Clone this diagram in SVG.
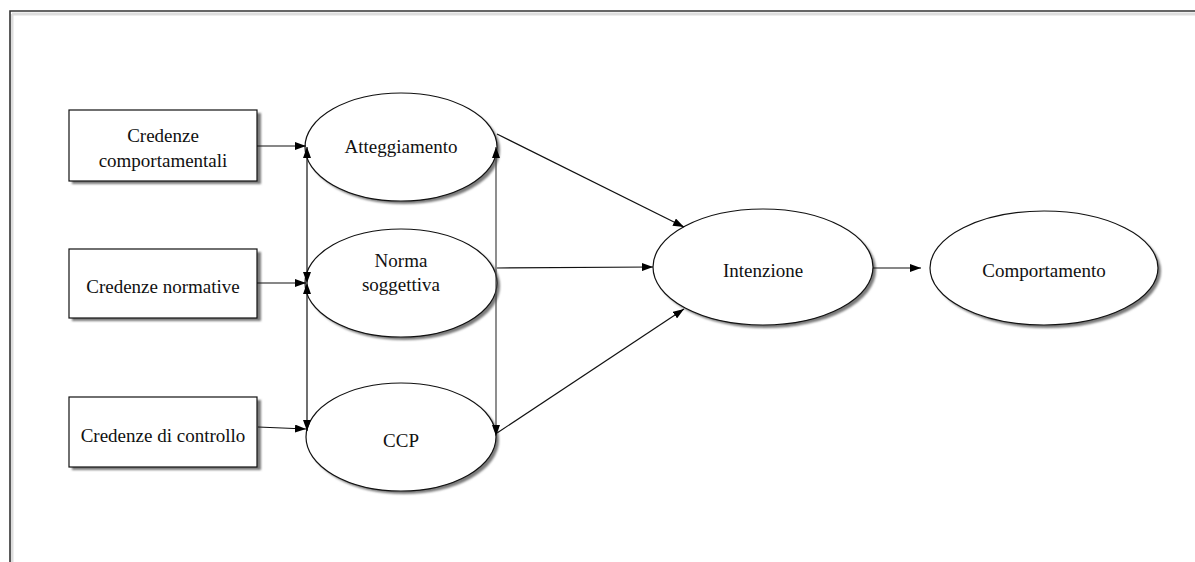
<svg xmlns="http://www.w3.org/2000/svg" width="1195" height="562" viewBox="0 0 1195 562">
  <defs>
    <style>
      .frame { fill: none; stroke: #333; stroke-width: 1.6; }
      .frame-shade { fill: none; stroke: #ddd; stroke-width: 3; }
      .shade { fill: #7a7a7a; filter: url(#soft); }
      .box { fill: #fff; stroke: #111; stroke-width: 1.2; }
      .oval { fill: #fff; stroke: #111; stroke-width: 1.2; }
      .label { font-family: "Liberation Serif", "Times New Roman", serif; font-size: 19px; fill: #111; text-anchor: middle; }
      .link { fill: none; stroke: #111; stroke-width: 1.2; }
      .link-grey { fill: none; stroke: #444; stroke-width: 1.2; }
    </style>
    <filter id="soft" x="-10%" y="-10%" width="120%" height="120%">
      <feGaussianBlur stdDeviation="0.8"/>
    </filter>
    <marker id="head" viewBox="0 0 11 8" refX="11" refY="4" markerWidth="11" markerHeight="8" markerUnits="userSpaceOnUse" orient="auto-start-reverse">
      <path d="M0,0 L11,4 L0,8 z" fill="#000"/>
    </marker>
  </defs>

  <!-- page frame -->
  <g id="frame">
    <path class="frame-shade" d="M12,14 H1195 M12,14 V562"/>
    <path class="frame" d="M10,562 V11 H1195"/>
  </g>

  <!-- belief boxes -->
  <g id="credenze-comportamentali">
    <rect class="shade" x="72" y="113" width="189" height="71"/>
    <rect class="box" x="69" y="110" width="188" height="71"/>
    <text class="label" x="163" y="142">Credenze</text>
    <text class="label" x="163" y="167">comportamentali</text>
  </g>
  <g id="credenze-normative">
    <rect class="shade" x="72" y="252" width="189" height="69"/>
    <rect class="box" x="69" y="249" width="188" height="69"/>
    <text class="label" x="163" y="293">Credenze normative</text>
  </g>
  <g id="credenze-controllo">
    <rect class="shade" x="72" y="400" width="189" height="70"/>
    <rect class="box" x="69" y="397" width="188" height="70"/>
    <text class="label" x="163" y="442">Credenze di controllo</text>
  </g>

  <!-- constructs -->
  <g id="atteggiamento">
    <ellipse class="shade" cx="404" cy="150" rx="96" ry="54"/>
    <ellipse class="oval" cx="401" cy="147" rx="96" ry="54"/>
    <text class="label" x="401" y="153">Atteggiamento</text>
  </g>
  <g id="norma-soggettiva">
    <ellipse class="shade" cx="404" cy="286" rx="96" ry="54"/>
    <ellipse class="oval" cx="401" cy="283" rx="96" ry="54"/>
    <text class="label" x="401" y="267">Norma</text>
    <text class="label" x="401" y="291">soggettiva</text>
  </g>
  <g id="ccp">
    <ellipse class="shade" cx="404" cy="440" rx="95" ry="54"/>
    <ellipse class="oval" cx="401" cy="437" rx="95" ry="54"/>
    <text class="label" x="401" y="447">CCP</text>
  </g>
  <g id="intenzione">
    <ellipse class="shade" cx="766" cy="270" rx="110" ry="58"/>
    <ellipse class="oval" cx="763" cy="267" rx="110" ry="58"/>
    <text class="label" x="763" y="277">Intenzione</text>
  </g>
  <g id="comportamento">
    <ellipse class="shade" cx="1047" cy="271" rx="114" ry="57"/>
    <ellipse class="oval" cx="1044" cy="268" rx="114" ry="57"/>
    <text class="label" x="1044" y="277">Comportamento</text>
  </g>

  <!-- connectors -->
  <g id="connectors">
    <!-- beliefs to constructs -->
    <path class="link" d="M257,146 L306,146" marker-end="url(#head)"/>
    <path class="link" d="M257,283 L306,283" marker-end="url(#head)"/>
    <path class="link" d="M258,427 L306,429" marker-end="url(#head)"/>
    <!-- correlations between constructs -->
    <path class="link" d="M307,147 L307,283" marker-start="url(#head)" marker-end="url(#head)"/>
    <path class="link" d="M307,283 L307,431" marker-start="url(#head)" marker-end="url(#head)"/>
    <path class="link-grey" d="M496,147 L496,436" marker-start="url(#head)" marker-end="url(#head)"/>
    <!-- constructs to intention -->
    <path class="link" d="M497,134 L684,227" marker-end="url(#head)"/>
    <path class="link" d="M497,268 L653,267" marker-end="url(#head)"/>
    <path class="link" d="M497,433 L684,309" marker-end="url(#head)"/>
    <!-- intention to behaviour -->
    <path class="link" d="M873,268 L921,268" marker-end="url(#head)"/>
  </g>
</svg>
